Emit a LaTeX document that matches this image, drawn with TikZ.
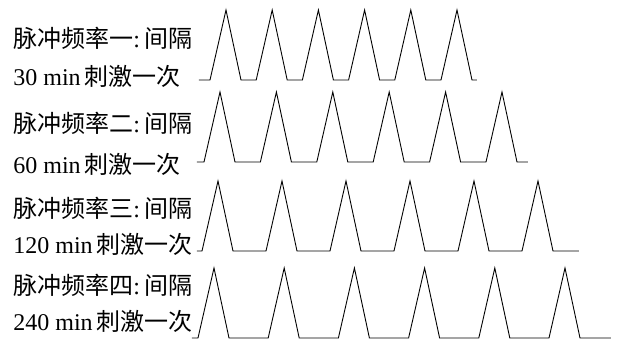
\documentclass[tikz,border=0pt]{standalone}
\usepackage{fontspec}
\setmainfont{Liberation Serif}
\newfontfamily\cjk{Noto Sans CJK SC}
\usepackage{tikz}

\begin{document}
\begin{tikzpicture}[x=0.5pt, y=-0.5pt, every node/.style={font=\fontsize{12pt}{14pt}\selectfont}]
\tikzstyle{label}=[anchor=west, inner sep=0pt]
\tikzstyle{pulse}=[line width=0.45pt, line join=miter]
\useasboundingbox (0,0) rectangle (618,344);
\foreach \n/\ya/\yb/\mins/\num in {1/38/76/30/一, 2/123/164/60/二, 3/208/244/120/三, 4/285/321/240/四}{
  \node[label] (freq\n) at (13,\ya) {{\cjk 脉冲频率\num}:\,{\cjk 间隔}};
  \node[label] (int\n) at (13,\yb) {\mins\ min\,{\cjk 刺激一次}};
}
\foreach \yb/\xs/\pk/\T/\xe in {80/199/226/46.2/477, 162/197/220/56.4/528, 251/197/218/64/579, 338/192/214/70.2/611}{
  \draw[pulse] (\xs,\yb) \foreach \k in {0,...,5}{ -- ({\pk+\k*\T-16},\yb) -- ({\pk+\k*\T},{\yb-70}) -- ({\pk+\k*\T+15},\yb) } -- (\xe,\yb);
}
\end{tikzpicture}
\end{document}
